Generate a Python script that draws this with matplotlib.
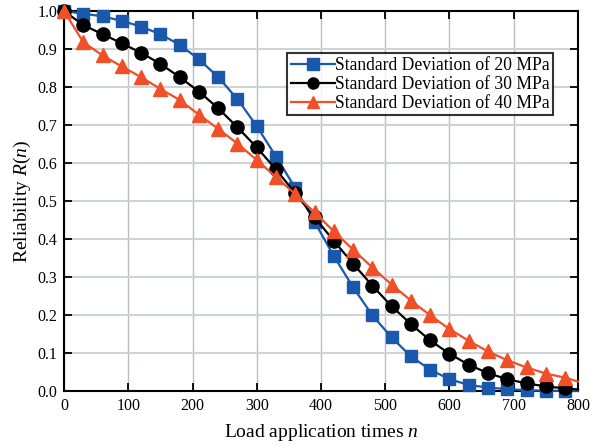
import numpy as np
import matplotlib
matplotlib.use('Agg')
import matplotlib.pyplot as plt

# load application times (marker positions)
n = [0, 30, 60, 90, 120, 150, 180, 210, 240, 270, 300, 330, 360, 390, 420,
     450, 480, 510, 540, 570, 600, 630, 660, 690, 720, 750, 780, 800]

# reliability R(n) for each standard deviation
r_20 = [1.0, 0.993, 0.986, 0.974, 0.959, 0.939, 0.911, 0.873, 0.826, 0.768,
        0.697, 0.617, 0.534, 0.445, 0.355, 0.273, 0.199, 0.141, 0.091, 0.056,
        0.031, 0.016, 0.009, 0.005, 0.002, 0.001, 0.0, 0.0]
r_30 = [1.0, 0.963, 0.939, 0.915, 0.890, 0.861, 0.826, 0.788, 0.744, 0.694,
        0.641, 0.583, 0.520, 0.457, 0.395, 0.335, 0.277, 0.223, 0.176, 0.133,
        0.098, 0.069, 0.047, 0.031, 0.020, 0.012, 0.007, 0.004]
r_40 = [1.0, 0.918, 0.883, 0.854, 0.826, 0.795, 0.766, 0.727, 0.690, 0.651,
        0.608, 0.563, 0.518, 0.470, 0.420, 0.372, 0.325, 0.280, 0.238, 0.199,
        0.163, 0.132, 0.104, 0.081, 0.062, 0.046, 0.035, 0.025]

labels = ['Standard Deviation of 20 MPa',
          'Standard Deviation of 30 MPa',
          'Standard Deviation of 40 MPa']

plt.rcParams['font.family'] = ['Liberation Serif', 'DejaVu Serif']
plt.rcParams['mathtext.fontset'] = 'custom'
plt.rcParams['mathtext.it'] = 'Liberation Serif:italic'
plt.rcParams['mathtext.rm'] = 'Liberation Serif'

fig = plt.figure(figsize=(5.95, 4.48), dpi=100)
ax = fig.add_axes([0.1076, 0.1272, 0.8638, 0.8482])

marks = list(range(len(n) - 1))  # no marker on the line end at 800
ax.plot(n, r_20, color='#1a58ab', marker='s', markersize=8, lw=1.6,
        markevery=marks, clip_on=False, label=labels[0], zorder=3)
ax.plot(n, r_30, color='black', marker='o', markersize=9.5, lw=1.6,
        markevery=marks, clip_on=False, label=labels[1], zorder=4)
ax.plot(n, r_40, color='#f04f28', marker='^', markersize=10, lw=1.6,
        markevery=marks, clip_on=False, label=labels[2], zorder=5)

ax.set_xlim(0, 800)
ax.set_ylim(0, 1.0)
ax.set_xticks(np.arange(0, 801, 100))
ax.set_yticks(np.arange(0, 1.01, 0.1))
ax.yaxis.set_major_formatter(matplotlib.ticker.FormatStrFormatter('%.1f'))
ax.tick_params(direction='in', length=6, width=1.3, top=True, right=True,
               labelsize=11.5, pad=5)
ax.grid(True, axis='x', color='#b8bec6', lw=1.0)
ax.grid(True, axis='y', color='#d0d3d6', lw=1.5)
ax.set_axisbelow(True)
for s in ax.spines.values():
    s.set_linewidth(1.5)

ax.set_xlabel('Load application times $n$', fontsize=14, labelpad=6)
ax.set_ylabel('Reliability $R(n)$', fontsize=14, labelpad=3)

leg = ax.legend(loc='upper right', bbox_to_anchor=(0.951, 0.889), fontsize=12.7,
                frameon=True, fancybox=False, edgecolor='black',
                handlelength=2.5, handletextpad=0.0, borderpad=0.2,
                labelspacing=0.12, borderaxespad=0.0)
leg.get_frame().set_linewidth(1.5)
for h in leg.legend_handles:
    h.set_markersize(8)

fig.savefig('out.png', dpi=100)
